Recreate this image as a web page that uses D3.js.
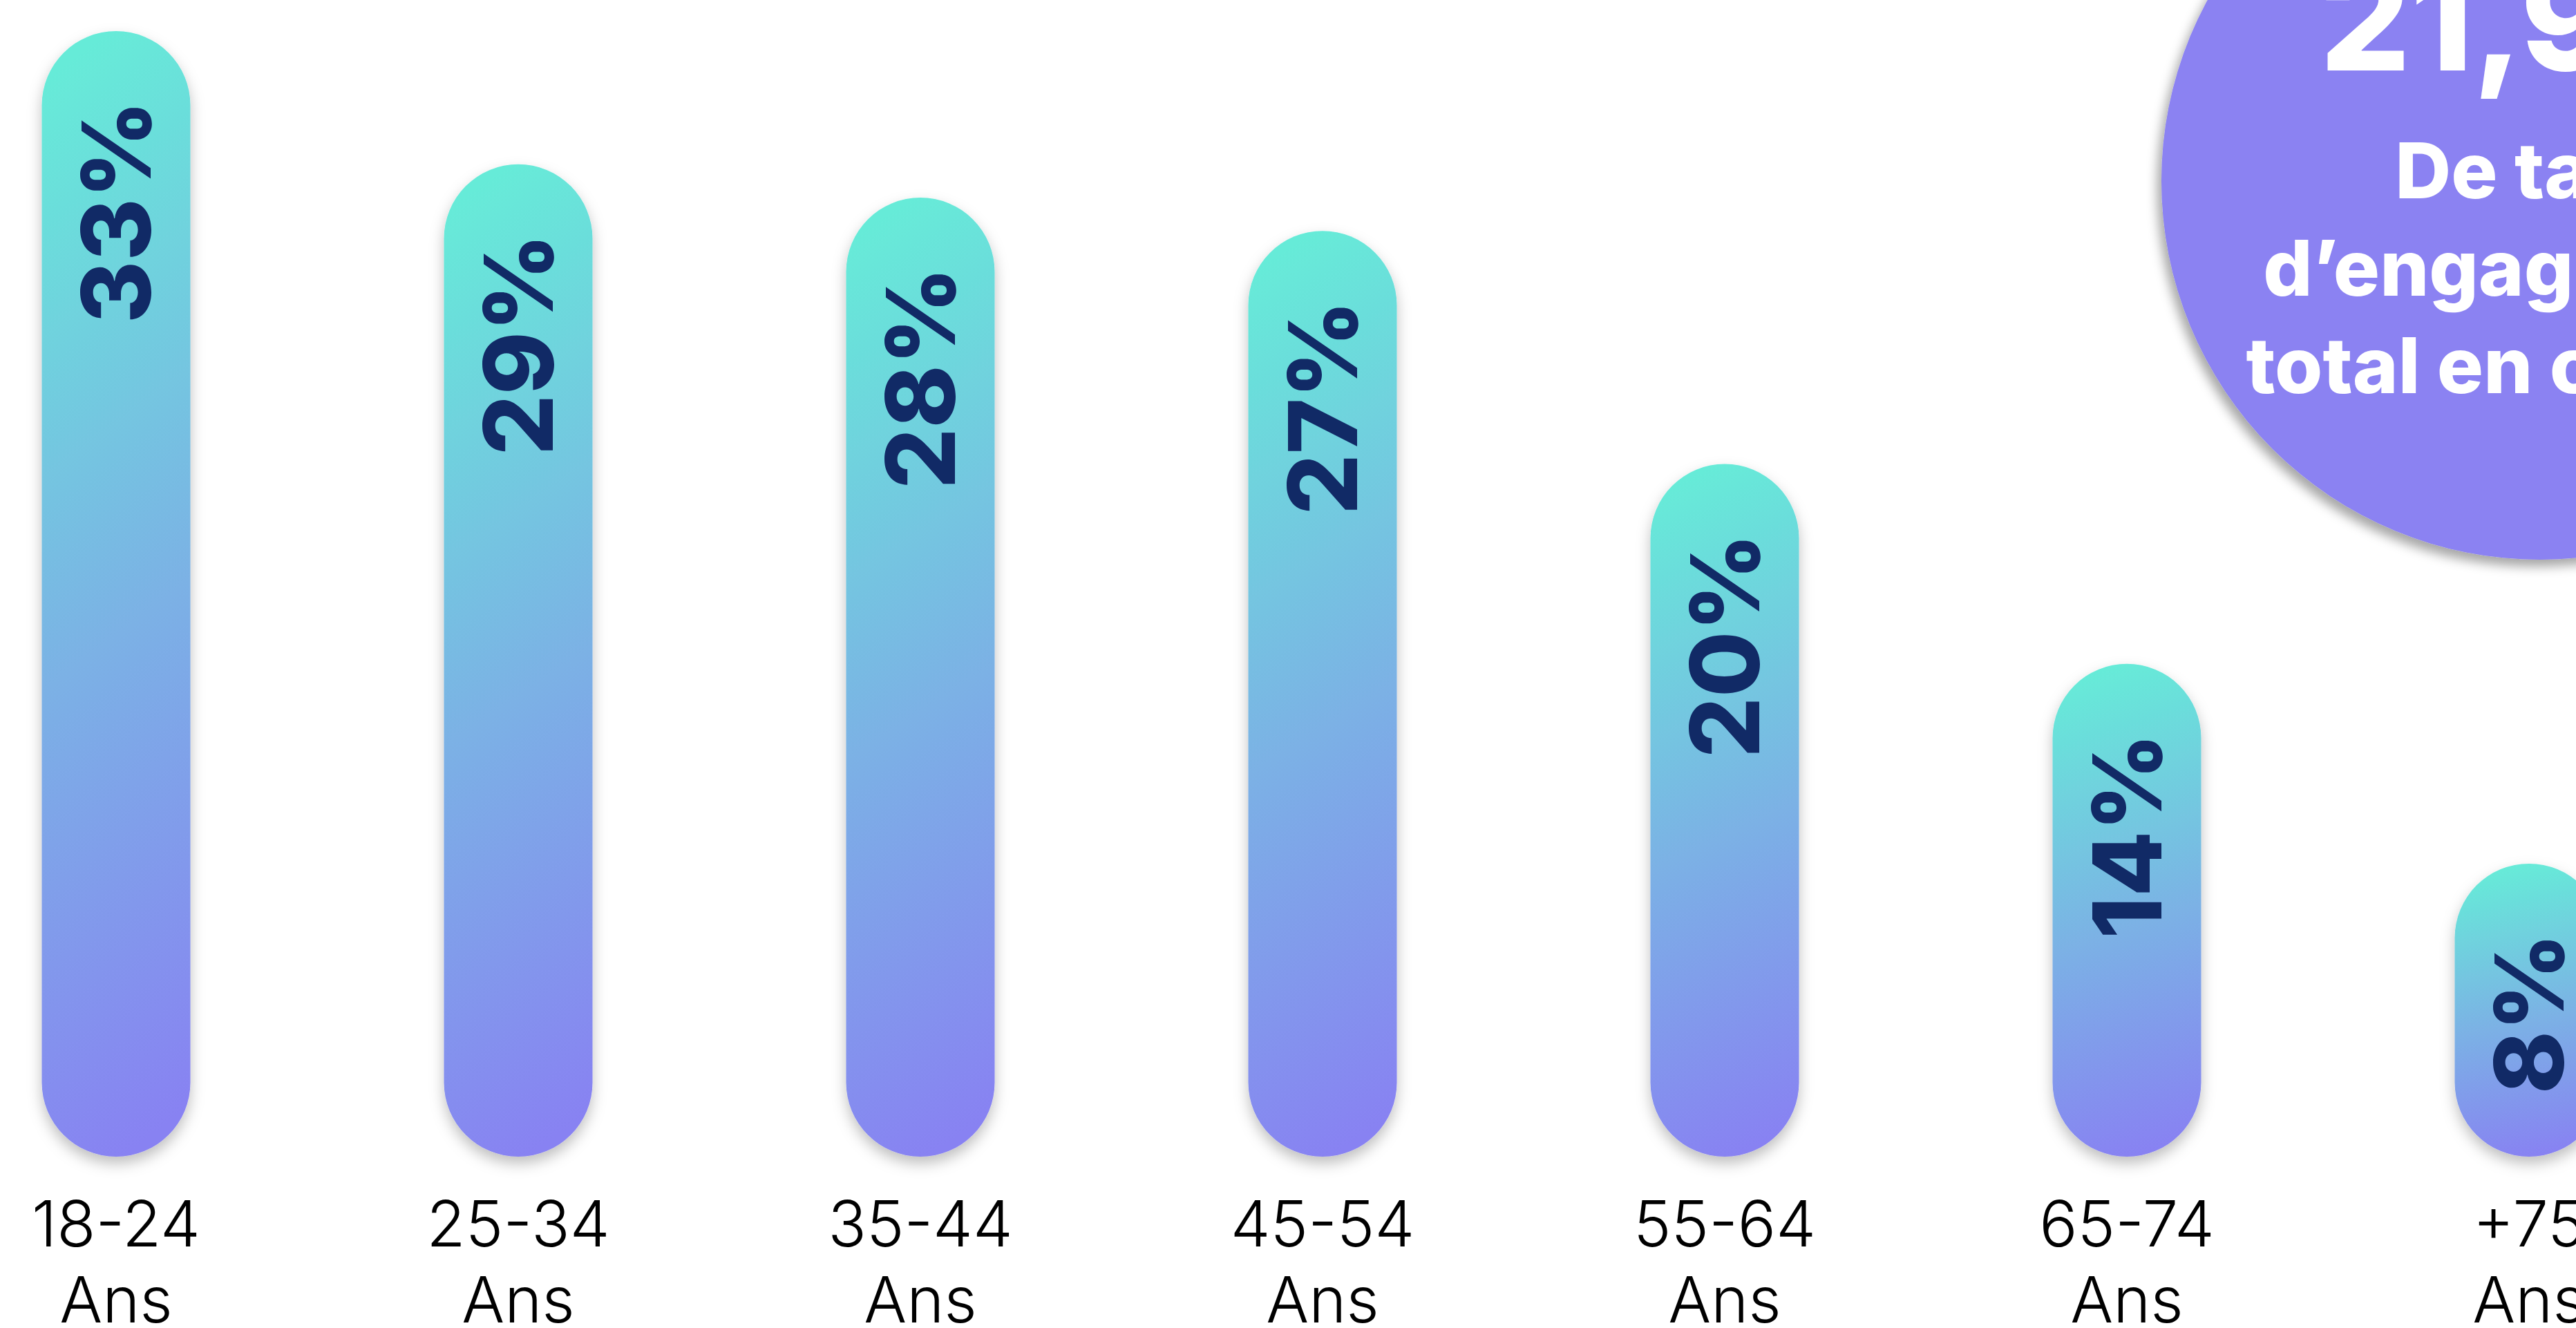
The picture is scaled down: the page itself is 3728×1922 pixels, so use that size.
<!DOCTYPE html>
<html>
<head>
<meta charset="utf-8">
<script src="https://cdn.jsdelivr.net/npm/d3@7"></script>
<style>
  html, body { margin: 0; padding: 0; background: #fff; }
  svg { display: block; }
</style>
</head>
<body>
<div id="container"></div>
<script>
// data
const categories = ['18-24', '25-34', '35-44', '45-54', '55-64', '65-74', '+75'];
const unitLabel = 'Ans';
const values = [33, 29, 28, 27, 20, 14, 8];
const highlightValue = '21,9%';
const highlightLines = ['De taux', 'd\u2019engagement', 'total en cumulé'];

window.onload = function () {
	'use strict';
	let options = {
		width: 3728,
		height: 1922,
		baseline: 1674,
		barWidth: 215,
		labelGap: 100,
		bgcolor: '#ffffff',
	};

	let svg = d3.select('#container')
		.append('svg')
		.attr('width', options.width)
		.attr('height', options.height)
		.attr('style', 'background-color: ' + options.bgcolor);

	let defs = svg.append('defs');

	let grad = defs.append('linearGradient')
		.attr('id', 'barGrad')
		.attr('x1', 0.45).attr('y1', 0)
		.attr('x2', 0.55).attr('y2', 1);
	grad.append('stop').attr('offset', '0%').attr('stop-color', '#66ebd8');
	grad.append('stop').attr('offset', '50%').attr('stop-color', '#7ab5e4');
	grad.append('stop').attr('offset', '100%').attr('stop-color', '#8882f2');

	let shadow = defs.append('filter')
		.attr('id', 'barShadow')
		.attr('x', '-30%').attr('y', '-10%')
		.attr('width', '160%').attr('height', '130%');
	shadow.append('feDropShadow')
		.attr('dx', 0).attr('dy', 10)
		.attr('stdDeviation', 10)
		.attr('flood-color', '#000')
		.attr('flood-opacity', 0.25);

	let circleShadow = defs.append('filter')
		.attr('id', 'circleShadow')
		.attr('x', '-20%').attr('y', '-20%')
		.attr('width', '140%').attr('height', '140%');
	circleShadow.append('feDropShadow')
		.attr('dx', -6).attr('dy', 10)
		.attr('stdDeviation', 8)
		.attr('flood-color', '#000')
		.attr('flood-opacity', 0.35);

	let x = d3.scalePoint()
		.domain(categories)
		.range([168, 3660]);

	let y = d3.scaleLinear()
		.domain([-0.8, 33])
		.range([options.baseline, 45]);

	let data = categories.map((c, i) => ({ cat: c, value: values[i] }));

	// bars
	svg.selectAll('rect.bar')
		.data(data)
		.enter()
		.append('rect')
		.attr('class', 'bar')
		.attr('x', (d) => x(d.cat) - options.barWidth / 2)
		.attr('y', (d) => y(d.value))
		.attr('width', options.barWidth)
		.attr('height', (d) => options.baseline - y(d.value))
		.attr('rx', options.barWidth / 2)
		.attr('ry', options.barWidth / 2)
		.attr('fill', 'url(#barGrad)')
		.attr('filter', 'url(#barShadow)');

	// rotated value labels
	svg.selectAll('text.value')
		.data(data)
		.enter()
		.append('text')
		.attr('class', 'value')
		.attr('transform', (d) =>
			'translate(' + x(d.cat) + ',' + (y(d.value) + options.labelGap) + ') rotate(-90)')
		.attr('text-anchor', 'end')
		.attr('dy', '0.36em')
		.attr('font-family', 'Inter, sans-serif')
		.attr('font-weight', 800)
		.attr('font-size', 138)
		.attr('fill', '#112a66')
		.text((d) => d.value + '%');

	// category labels, two lines
	let labels = svg.selectAll('text.cat')
		.data(data)
		.enter()
		.append('text')
		.attr('class', 'cat')
		.attr('text-anchor', 'middle')
		.attr('font-family', 'Inter, sans-serif')
		.attr('font-weight', 300)
		.attr('font-size', 92)
		.attr('fill', '#000');
	labels.append('tspan')
		.attr('x', (d) => x(d.cat))
		.attr('y', 1804)
		.text((d) => d.cat);
	labels.append('tspan')
		.attr('x', (d) => x(d.cat))
		.attr('y', 1914)
		.text(unitLabel);

	// highlight bubble
	let bubble = svg.append('g').attr('transform', 'translate(3676,262)');
	bubble.append('circle')
		.attr('r', 548)
		.attr('fill', '#8b82f2')
		.attr('filter', 'url(#circleShadow)');
	bubble.append('text')
		.attr('text-anchor', 'middle')
		.attr('y', -160)
		.attr('font-family', 'Inter, sans-serif')
		.attr('font-weight', 800)
		.attr('font-size', 205)
		.attr('fill', '#fff')
		.text(highlightValue);
	bubble.selectAll('text.line')
		.data(highlightLines)
		.enter()
		.append('text')
		.attr('class', 'line')
		.attr('text-anchor', 'middle')
		.attr('y', (d, i) => 25 + i * 141)
		.attr('font-family', 'Inter, sans-serif')
		.attr('font-weight', 800)
		.attr('font-size', 112)
		.attr('fill', '#fff')
		.text((d) => d);
};
</script>
</body>
</html>
